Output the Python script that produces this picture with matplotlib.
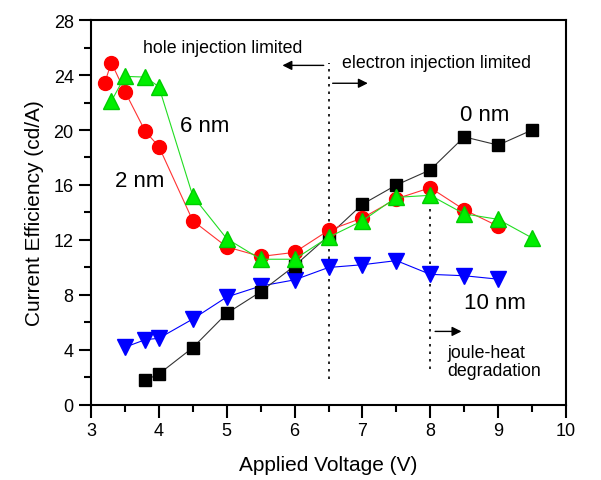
import matplotlib
matplotlib.use("Agg")
import matplotlib.pyplot as plt

plt.rcParams['font.family'] = ['Liberation Sans', 'DejaVu Sans']

# Data
v_0nm = [3.8, 4.0, 4.5, 5.0, 5.5, 6.0, 6.5, 7.0, 7.5, 8.0, 8.5, 9.0, 9.5]
ce_0nm = [1.8, 2.25, 4.17, 6.66, 8.23, 10.12, 12.3, 14.6, 16.0, 17.1, 19.5, 18.9, 20.0]

v_2nm = [3.2, 3.3, 3.5, 3.8, 4.0, 4.5, 5.0, 5.5, 6.0, 6.5, 7.0, 7.5, 8.0, 8.5, 9.0]
ce_2nm = [23.4, 24.9, 22.8, 19.9, 18.8, 13.4, 11.5, 10.8, 11.1, 12.7, 13.6, 15.0, 15.8, 14.2, 13.0]

v_6nm = [3.3, 3.5, 3.8, 4.0, 4.5, 5.0, 5.5, 6.0, 6.5, 7.0, 7.5, 8.0, 8.5, 9.0, 9.5]
ce_6nm = [22.1, 23.9, 23.85, 23.15, 15.2, 12.1, 10.6, 10.6, 12.2, 13.4, 15.1, 15.25, 13.9, 13.5, 12.15]

v_10nm = [3.5, 3.8, 4.0, 4.5, 5.0, 5.5, 6.0, 6.5, 7.0, 7.5, 8.0, 8.5, 9.0]
ce_10nm = [4.2, 4.75, 4.85, 6.25, 7.85, 8.65, 9.1, 10.0, 10.2, 10.5, 9.5, 9.4, 9.15]

x_ticks = [3, 4, 5, 6, 7, 8, 9, 10]
y_ticks = [0, 4, 8, 12, 16, 20, 24, 28]

fig = plt.figure(figsize=(6.01, 4.81), dpi=100)
ax = fig.add_axes([0.1514, 0.156, 0.7904, 0.8003])

ax.plot(v_10nm, ce_10nm, color='#0000ff', lw=0.8, marker='v', ms=11,
        mfc='#0000ff', mec='#0000ff', zorder=3)
ax.plot(v_0nm, ce_0nm, color='#333333', lw=0.8, marker='s', ms=9,
        mfc='black', mec='black', zorder=4)
ax.plot(v_2nm, ce_2nm, color='#ff3333', lw=0.8, marker='o', ms=10,
        mfc='#ff0000', mec='#ff0000', zorder=5)
ax.plot(v_6nm, ce_6nm, color='#22dd22', lw=0.8, marker='^', ms=11,
        mfc='#00ee00', mec='#00cc00', zorder=6)

# dotted vertical lines
ax.plot([6.5, 6.5], [1.9, 24.9], color='black', ls=(0, (1.5, 3)), lw=1.2, zorder=2)
ax.plot([8.0, 8.0], [2.6, 15.6], color='black', ls=(0, (1.5, 3)), lw=1.2, zorder=2)

# arrows
arrow_kw = dict(arrowstyle='-|>', color='black', lw=1.0, mutation_scale=14)
ax.annotate('', xy=(5.78, 24.7), xytext=(6.47, 24.7), arrowprops=arrow_kw)
ax.annotate('', xy=(7.12, 23.4), xytext=(6.52, 23.4), arrowprops=arrow_kw)
ax.annotate('', xy=(8.5, 5.35), xytext=(8.03, 5.35), arrowprops=arrow_kw)

# texts
ax.text(3.76, 26.0, 'hole injection limited', fontsize=12.8, va='center', ha='left')
ax.text(6.7, 24.9, 'electron injection limited', fontsize=12.8, va='center', ha='left')
ax.text(4.31, 20.3, '6 nm', fontsize=16, va='center', ha='left')
ax.text(3.35, 16.3, '2 nm', fontsize=16, va='center', ha='left')
ax.text(8.44, 21.1, '0 nm', fontsize=16, va='center', ha='left')
ax.text(8.5, 7.46, '10 nm', fontsize=16, va='center', ha='left')
ax.text(8.25, 3.15, 'joule-heat\ndegradation', fontsize=12.8, va='center', ha='left',
        linespacing=1.1)

ax.set_xlim(3, 10)
ax.set_ylim(0, 28)
ax.set_xticks(x_ticks)
ax.set_yticks(y_ticks)
ax.set_xticks([3.5 + i for i in range(7)], minor=True)
ax.set_yticks([2 + 4 * i for i in range(7)], minor=True)
ax.tick_params(which='major', direction='out', length=9, width=1.5, labelsize=13)
ax.tick_params(which='minor', direction='out', length=5, width=1.5)
ax.tick_params(top=False, right=False)
for s in ax.spines.values():
    s.set_linewidth(1.5)

ax.set_xlabel('Applied Voltage (V)', fontsize=15, labelpad=11)
ax.set_ylabel('Current Efficiency (cd/A)', fontsize=15, labelpad=7)

fig.savefig('out.png', dpi=100)
